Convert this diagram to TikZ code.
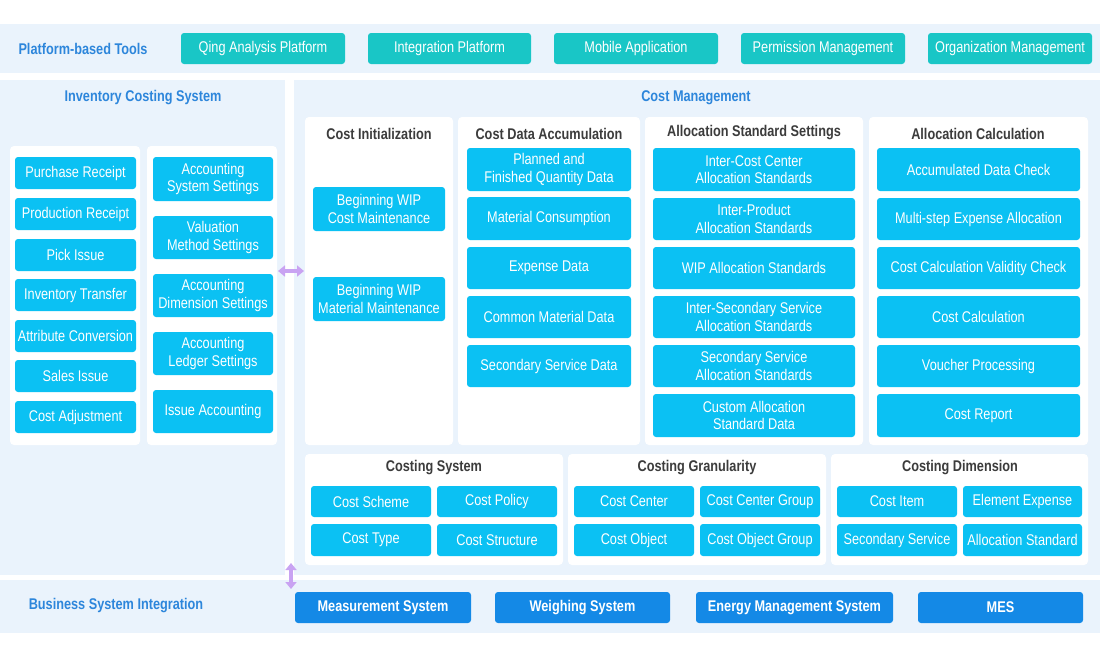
\documentclass[tikz,border=0pt]{standalone}
\usepackage{fontspec}
\setmainfont{Liberation Sans}[FakeStretch=0.82]
\usetikzlibrary{arrows.meta}
\definecolor{bgpanel}{HTML}{EAF3FC}
\definecolor{teal}{HTML}{19C6C6}
\definecolor{cyanbtn}{HTML}{0BC1F3}
\definecolor{darkbtn}{HTML}{1489E6}
\definecolor{titleblue}{HTML}{2D86DB}
\definecolor{graytext}{HTML}{3C3C3C}
\definecolor{arrowpurple}{HTML}{C9A3F2}
\tikzset{
  bgrect/.style={fill=bgpanel, draw=none},
  whitepanel/.style={fill=white, draw=none, rounded corners=4pt},
  btnbase/.style={draw=none, rounded corners=3pt, text=white, align=center, inner sep=0pt,
    font=\fontsize{15.5}{17.5}\selectfont},
  tealbtn/.style={btnbase, fill=teal},
  cyb/.style={btnbase, fill=cyanbtn},
  darkb/.style={btnbase, fill=darkbtn, font=\bfseries\fontsize{15.5}{17.5}\selectfont},
  bluetitle/.style={text=titleblue, font=\bfseries\fontsize{15.5}{17.5}\selectfont},
  graytitle/.style={text=graytext, font=\bfseries\fontsize{15.5}{17.5}\selectfont},
  dblarrow/.style={draw=arrowpurple, line width=3.5pt, {Triangle[width=11pt,length=7pt]}-{Triangle[width=11pt,length=7pt]}}
}
% style, name, x1, y1, x2, y2, text
\newcommand{\boxat}[7]{%
  \pgfmathsetmacro\bw{#5-#3}\pgfmathsetmacro\bh{#6-#4}%
  \node[#1, minimum width=\bw pt, minimum height=\bh pt] (#2) at ({(#3+#5)/2},{(#4+#6)/2}) {#7};}
\begin{document}
\begin{tikzpicture}[x=1pt,y=-1pt]
\useasboundingbox (0,0) rectangle (1100,659);
% ---------- top band
\fill[bgpanel] (0,24) rectangle (1100,73);
\node[bluetitle] (ptools) at (83,49) {Platform-based Tools};
\boxat{tealbtn}{qing}{181}{33}{345}{64}{Qing Analysis Platform}
\boxat{tealbtn}{integ}{368}{33}{531}{64}{Integration Platform}
\boxat{tealbtn}{mobile}{554}{33}{718}{64}{Mobile Application}
\boxat{tealbtn}{perm}{741}{33}{905}{64}{Permission Management}
\boxat{tealbtn}{org}{928}{33}{1092}{64}{Organization Management}
% ---------- left panel
\boxat{bgrect}{inv}{0}{80}{285}{575}{}
\node[bluetitle] (invtitle) at (143,98) {Inventory Costing System};
\boxat{whitepanel}{invL}{10}{146}{140}{445}{}
\boxat{whitepanel}{invR}{147}{146}{277}{445}{}
\boxat{cyb}{pr}{15}{157}{136}{189}{Purchase Receipt}
\boxat{cyb}{prr}{15}{198}{136}{230}{Production Receipt}
\boxat{cyb}{pick}{15}{239}{136}{271}{Pick Issue}
\boxat{cyb}{itr}{15}{279}{136}{311}{Inventory Transfer}
\boxat{cyb}{attr}{15}{320}{136}{352}{Attribute Conversion}
\boxat{cyb}{sales}{15}{360}{136}{392}{Sales Issue}
\boxat{cyb}{cadj}{15}{401}{136}{433}{Cost Adjustment}
\boxat{cyb}{ass}{153}{157}{273}{201}{Accounting\\System Settings}
\boxat{cyb}{vms}{153}{216}{273}{259}{Valuation\\Method Settings}
\boxat{cyb}{ads}{153}{274}{273}{317}{Accounting\\Dimension Settings}
\boxat{cyb}{als}{153}{332}{273}{375}{Accounting\\Ledger Settings}
\boxat{cyb}{iacc}{153}{390}{273}{433}{Issue Accounting}
% ---------- cost management panel
\boxat{bgrect}{cm}{294}{80}{1100}{575}{}
\node[bluetitle] (cmtitle) at (696,98) {Cost Management};
\boxat{whitepanel}{ci}{305}{117}{453}{445}{}
\boxat{whitepanel}{cda}{458}{117}{640}{445}{}
\boxat{whitepanel}{asp}{645}{117}{863}{445}{}
\boxat{whitepanel}{acp}{869}{117}{1088}{445}{}
\node[graytitle] (cit) at (379,134) {Cost Initialization};
\node[graytitle] (cdat) at (549,134) {Cost Data Accumulation};
\node[graytitle] (aspt) at (754,133) {Allocation Standard Settings};
\node[graytitle] (acpt) at (978,134) {Allocation Calculation};
\boxat{cyb}{bwc}{313}{187}{445}{231}{Beginning WIP\\Cost Maintenance}
\boxat{cyb}{bwm}{313}{277}{445}{321}{Beginning WIP\\Material Maintenance}
\boxat{cyb}{pfq}{467}{148}{631}{191}{Planned and\\Finished Quantity Data}
\boxat{cyb}{mc}{467}{197}{631}{240}{Material Consumption}
\boxat{cyb}{ed}{467}{247}{631}{289}{Expense Data}
\boxat{cyb}{cmd}{467}{296}{631}{338}{Common Material Data}
\boxat{cyb}{ssd}{467}{345}{631}{387}{Secondary Service Data}
\boxat{cyb}{icc}{653}{148}{855}{191}{Inter-Cost Center\\Allocation Standards}
\boxat{cyb}{ip}{653}{198}{855}{240}{Inter-Product\\Allocation Standards}
\boxat{cyb}{wip}{653}{247}{855}{289}{WIP Allocation Standards}
\boxat{cyb}{iss}{653}{296}{855}{338}{Inter-Secondary Service\\Allocation Standards}
\boxat{cyb}{ssa}{653}{345}{855}{387}{Secondary Service\\Allocation Standards}
\boxat{cyb}{cas}{653}{394}{855}{437}{Custom Allocation\\Standard Data}
\boxat{cyb}{adc}{877}{148}{1080}{191}{Accumulated Data Check}
\boxat{cyb}{msea}{877}{198}{1080}{240}{Multi-step Expense Allocation}
\boxat{cyb}{ccvc}{877}{247}{1080}{289}{Cost Calculation Validity Check}
\boxat{cyb}{cc}{877}{296}{1080}{338}{Cost Calculation}
\boxat{cyb}{vp}{877}{345}{1080}{387}{Voucher Processing}
\boxat{cyb}{cr}{877}{394}{1080}{437}{Cost Report}
% bottom inner panels
\boxat{whitepanel}{csp}{305}{454}{563}{565}{}
\boxat{whitepanel}{cgp}{568}{454}{826}{565}{}
\boxat{whitepanel}{cdp}{831}{454}{1088}{565}{}
\node[graytitle] (cst) at (434,468) {Costing System};
\node[graytitle] (cgt) at (697,468) {Costing Granularity};
\node[graytitle] (cdt) at (960,468) {Costing Dimension};
\boxat{cyb}{csch}{311}{486}{431}{517}{Cost Scheme}
\boxat{cyb}{cpol}{437}{486}{557}{517}{Cost Policy}
\boxat{cyb}{ctyp}{311}{524}{431}{556}{Cost Type}
\boxat{cyb}{cstr}{437}{524}{557}{556}{Cost Structure}
\boxat{cyb}{ccen}{574}{486}{694}{517}{Cost Center}
\boxat{cyb}{ccg}{700}{486}{820}{517}{Cost Center Group}
\boxat{cyb}{cobj}{574}{524}{694}{556}{Cost Object}
\boxat{cyb}{cog}{700}{524}{820}{556}{Cost Object Group}
\boxat{cyb}{citem}{837}{486}{957}{517}{Cost Item}
\boxat{cyb}{eexp}{963}{486}{1082}{517}{Element Expense}
\boxat{cyb}{ssv}{837}{524}{957}{556}{Secondary Service}
\boxat{cyb}{alst}{963}{524}{1082}{556}{Allocation Standard}
% ---------- bottom band
\boxat{bgrect}{bsi}{0}{580}{1100}{633}{}
\node[bluetitle] (bsit) at (116,606) {Business System Integration};
\boxat{darkb}{meas}{295}{592}{471}{623}{Measurement System}
\boxat{darkb}{weigh}{495}{592}{670}{623}{Weighing System}
\boxat{darkb}{ems}{696}{592}{893}{623}{Energy Management System}
\boxat{darkb}{mes}{918}{592}{1083}{623}{MES}
% ---------- arrows
\coordinate (hL) at (278,271);
\coordinate (hR) at (304,271);
\coordinate (vT) at (291,563);
\coordinate (vB) at (291,589);
\draw[dblarrow] (hL) -- (hR);
\draw[dblarrow] (vT) -- (vB);
\end{tikzpicture}
\end{document}
